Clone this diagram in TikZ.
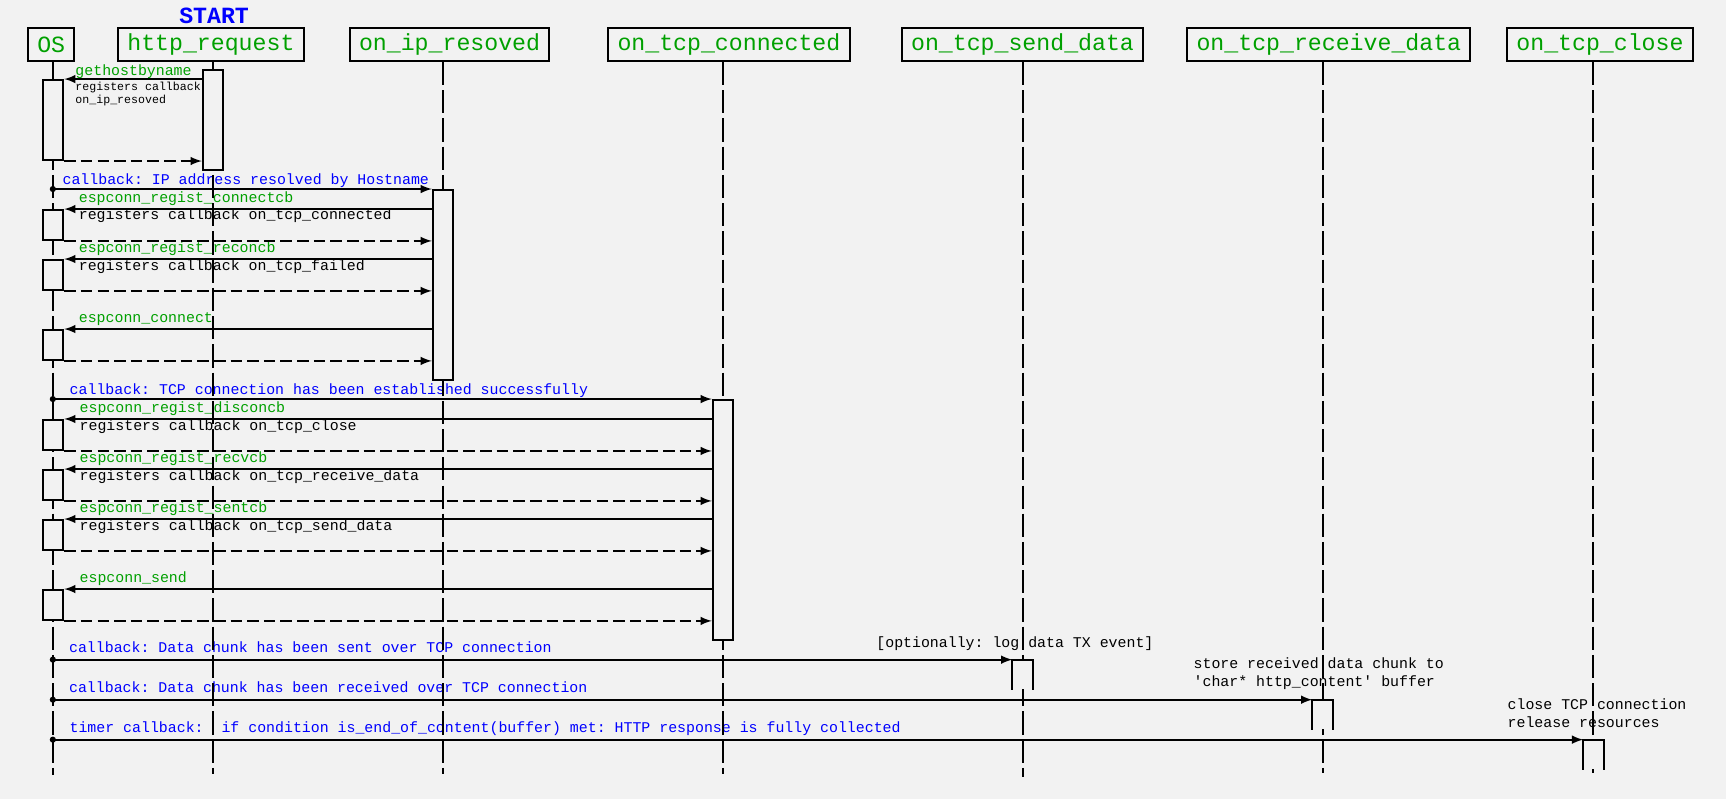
\documentclass[tikz,border=0pt]{standalone}
\usepackage{fontspec}
\setmonofont{Liberation Mono}
\usetikzlibrary{fit}
\definecolor{bgc}{HTML}{F2F2F2}
\definecolor{grn}{RGB}{0,160,0}
\tikzset{
	hdr/.style={draw, line width=1pt, fill=bgc, text=grn, font=\ttfamily\fontsize{12}{14}\selectfont, inner xsep=4.8pt, inner ysep=0pt, minimum height=17.2pt},
	lifeline/.style={line width=1pt, dash pattern=on 12pt off 2.6pt},
	act/.style={draw, line width=1pt, fill=bgc, inner sep=0pt},
	openact/.style={fill=bgc, inner sep=0pt},
	msg/.style={-latex, line width=1pt},
	ret/.style={msg, dash pattern=on 6pt off 2.6pt},
	lbl/.style={anchor=base west, inner sep=0pt, font=\ttfamily\fontsize{7.7}{9}\selectfont},
	tinylbl/.style={lbl, font=\ttfamily\fontsize{6}{7}\selectfont},
	fn/.style={lbl, text=grn},
	cb/.style={lbl, text=blue}
}
\begin{document}
\begin{tikzpicture}[x=0.02cm, y=-0.02cm]
	\fill[bgc] (0,0) rectangle (1568,726);
	\useasboundingbox (0,0) rectangle (1568,726);
	% participants
	\node[hdr] (hOS) at (46.5,40.3) {OS};
	\node[hdr] (hReq) at (191.6,40.3) {http\_request};
	\node[hdr] (hIP) at (408.4,40.3) {on\_ip\_resoved};
	\node[hdr] (hConn) at (662.2,40.3) {on\_tcp\_connected};
	\node[hdr] (hSend) at (928.9,40.3) {on\_tcp\_send\_data};
	\node[hdr] (hRecv) at (1207.2,40.3) {on\_tcp\_receive\_data};
	\node[hdr] (hClose) at (1453.5,40.3) {on\_tcp\_close};
	\node[text=blue, inner sep=0pt, font=\ttfamily\bfseries\fontsize{12}{14}\selectfont] (start) at (194.5,14.5) {START};
	% labels
	\node[fn] (tGet) at (68.2,68.7) {gethostbyname};
	\node[tinylbl] (tGetA) at (68.2,81.8) {registers callback};
	\node[tinylbl] (tGetB) at (68.2,94) {on\_ip\_resoved};
	\node[cb] (tIP) at (56.5,167.4) {callback: IP address resolved by Hostname};
	\node[fn] (tConnCb) at (71.3,183.8) {espconn\_regist\_connectcb};
	\node[lbl] (tConnReg) at (71.3,199.8) {registers callback on\_tcp\_connected};
	\node[fn] (tReconCb) at (71.3,229.5) {espconn\_regist\_reconcb};
	\node[lbl] (tReconReg) at (71.3,245.5) {registers callback on\_tcp\_failed};
	\node[fn] (tConnect) at (71.3,292.8) {espconn\_connect};
	\node[cb] (tTCP) at (63,358.2) {callback: TCP connection has been established successfully};
	\node[fn] (tDiscCb) at (72,374.8) {espconn\_regist\_disconcb};
	\node[lbl] (tDiscReg) at (72,390.9) {registers callback on\_tcp\_close};
	\node[fn] (tRecvCb) at (72,420.3) {espconn\_regist\_recvcb};
	\node[lbl] (tRecvReg) at (72,436.6) {registers callback on\_tcp\_receive\_data};
	\node[fn] (tSentCb) at (72,465.4) {espconn\_regist\_sentcb};
	\node[lbl] (tSentReg) at (72,481.7) {registers callback on\_tcp\_send\_data};
	\node[fn] (tSend) at (72,529) {espconn\_send};
	\node[cb] (tSent) at (62.4,592.6) {callback: Data chunk has been sent over TCP connection};
	\node[lbl] (tLog) at (795.8,588.4) {[optionally: log data TX event]};
	\node[cb] (tRecv) at (62.4,629) {callback: Data chunk has been received over TCP connection};
	\node[lbl] (tStoreA) at (1084,607.2) {store received data chunk to};
	\node[lbl] (tStoreB) at (1084,623.2) {'char* http\_content' buffer};
	\node[cb] (tTimer) at (62.9,665.3) {timer callback:\ \ if condition is\_end\_of\_content(buffer) met: HTTP response is fully collected};
	\node[lbl] (tCloseA) at (1369.3,644.4) {close TCP connection};
	\node[lbl] (tCloseB) at (1369.3,661) {release resources};
	% lifelines
	\coordinate (lOS) at (48,704);
	\coordinate (lReq) at (193.3,703);
	\coordinate (lIP) at (402.3,703);
	\coordinate (lConn) at (656.5,703);
	\coordinate (lSend) at (929,705.6);
	\coordinate (lRecv) at (1201.7,702.6);
	\coordinate (lClose) at (1446.8,702.6);
	\draw[lifeline] (lOS |- hOS.south) -- (lOS);
	\draw[lifeline] (lReq |- hReq.south) -- (lReq);
	\draw[lifeline] (lIP |- hIP.south) -- (lIP);
	\draw[lifeline] (lConn |- hConn.south) -- (lConn);
	\draw[lifeline] (lSend |- hSend.south) -- (lSend);
	\draw[lifeline] (lRecv |- hRecv.south) -- (lRecv);
	\draw[lifeline] (lClose |- hClose.south) -- (lClose);
	% activations
	\node[act, fit={(184.2,63.3) (202.7,154.4)}] (aReq) {};
	\node[act, fit={(39,72.7) (57.5,145.4)}] (aOS1) {};
	\node[act, fit={(393.2,172.6) (411.7,345.2)}] (aIP) {};
	\node[act, fit={(39,190.8) (57.5,218)}] (aOS2) {};
	\node[act, fit={(39,236.2) (57.5,263.4)}] (aOS3) {};
	\node[act, fit={(39,299.8) (57.5,327)}] (aOS4) {};
	\node[act, fit={(647.5,363.4) (665.5,581.5)}] (aConn) {};
	\node[act, fit={(39,381.5) (57.5,408.8)}] (aOS5) {};
	\node[act, fit={(39,427) (57.5,454.2)}] (aOS6) {};
	\node[act, fit={(39,472.4) (57.5,499.6)}] (aOS7) {};
	\node[act, fit={(39,536) (57.5,563.2)}] (aOS8) {};
	\node[openact, fit={(920,599.6) (938.2,626.3)}] (aSend) {};
	\node[openact, fit={(1192.5,636) (1210.7,662.6)}] (aRecv) {};
	\node[openact, fit={(1438.6,672.3) (1457,699)}] (aClose) {};
	\draw[line width=1pt] (aSend.south west) |- (aSend.north east) -- (aSend.south east);
	\draw[line width=1pt] (aRecv.south west) |- (aRecv.north east) -- (aRecv.south east);
	\draw[line width=1pt] (aClose.south west) |- (aClose.north east) -- (aClose.south east);
	% messages
	\draw[msg] (aReq.west |- aOS1.north) -- (aOS1.north east);
	\draw[ret] (aOS1.south east) -- (aReq.west |- aOS1.south);
	\fill (lOS |- aIP.north) circle[radius=1.6pt];
	\draw[msg] (lOS |- aIP.north) -- (aIP.north west);
	\draw[msg] (aIP.west |- aOS2.north) -- (aOS2.north east);
	\draw[ret] (aOS2.south east) -- (aIP.west |- aOS2.south);
	\draw[msg] (aIP.west |- aOS3.north) -- (aOS3.north east);
	\draw[ret] (aOS3.south east) -- (aIP.west |- aOS3.south);
	\draw[msg] (aIP.west |- aOS4.north) -- (aOS4.north east);
	\draw[ret] (aOS4.south east) -- (aIP.west |- aOS4.south);
	\fill (lOS |- aConn.north) circle[radius=1.6pt];
	\draw[msg] (lOS |- aConn.north) -- (aConn.north west);
	\draw[msg] (aConn.west |- aOS5.north) -- (aOS5.north east);
	\draw[ret] (aOS5.south east) -- (aConn.west |- aOS5.south);
	\draw[msg] (aConn.west |- aOS6.north) -- (aOS6.north east);
	\draw[ret] (aOS6.south east) -- (aConn.west |- aOS6.south);
	\draw[msg] (aConn.west |- aOS7.north) -- (aOS7.north east);
	\draw[ret] (aOS7.south east) -- (aConn.west |- aOS7.south);
	\draw[msg] (aConn.west |- aOS8.north) -- (aOS8.north east);
	\draw[ret] (aOS8.south east) -- (aConn.west |- aOS8.south);
	\fill (lOS |- aSend.north) circle[radius=1.6pt];
	\draw[msg] (lOS |- aSend.north) -- (aSend.north west);
	\fill (lOS |- aRecv.north) circle[radius=1.6pt];
	\draw[msg] (lOS |- aRecv.north) -- (aRecv.north west);
	\fill (lOS |- aClose.north) circle[radius=1.6pt];
	\draw[msg] (lOS |- aClose.north) -- (aClose.north west);
\end{tikzpicture}
\end{document}
